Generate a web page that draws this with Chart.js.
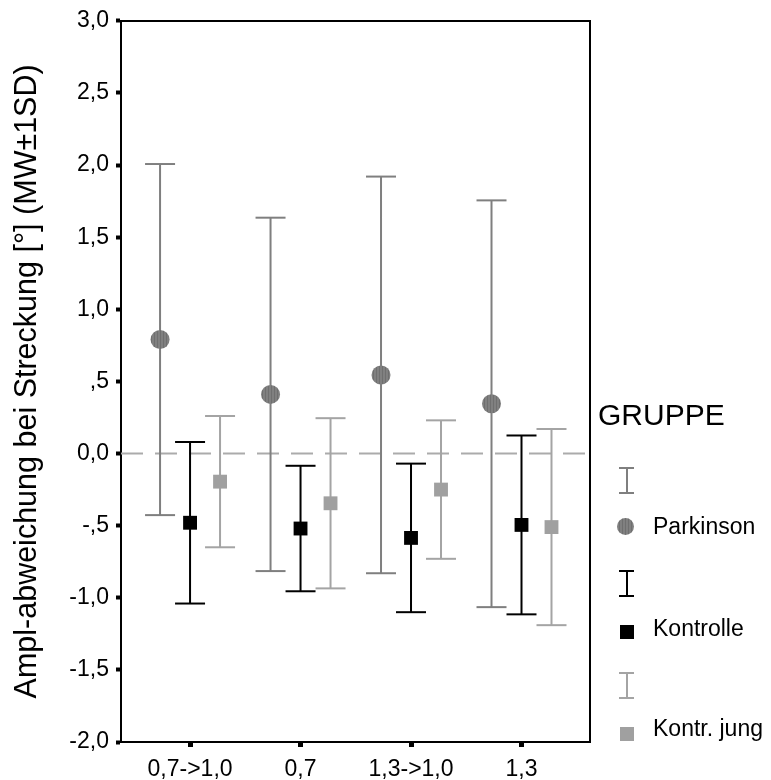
<!DOCTYPE html>
<html><head><meta charset="utf-8">
<script src="https://cdn.jsdelivr.net/npm/chart.js@4"></script>
<style>
html,body{margin:0;padding:0;background:#fff;}
#wrap{position:relative;width:771px;height:780px;}
#legend{position:absolute;left:0;top:0;width:771px;height:780px;pointer-events:none;font-family:"Liberation Sans",Arial,sans-serif;color:#000;}
.lt{position:absolute;white-space:nowrap;line-height:1;}
.eb{position:absolute;width:15px;height:27px;box-sizing:border-box;border-top:2px solid currentColor;border-bottom:2px solid currentColor;}
.eb::after{content:'';position:absolute;left:6.5px;top:0;bottom:0;width:2px;background:currentColor;}
.mk{position:absolute;}
</style></head><body>
<div id="wrap"><canvas id="c" width="771" height="780"></canvas>
<div id="legend"></div></div>
<script>
// ---- data ----
const categories = ['0,7->1,0', '0,7', '1,3->1,0', '1,3'];
const groups = ['Parkinson', 'Kontrolle', 'Kontr. jung'];
const parkinsonMean = [0.79, 0.41, 0.545, 0.345];
const parkinsonSD   = [1.217, 1.225, 1.375, 1.41];
const kontrolleMean = [-0.48, -0.52, -0.585, -0.495];
const kontrolleSD   = [0.56, 0.435, 0.515, 0.62];
const jungMean      = [-0.195, -0.345, -0.25, -0.51];
const jungSD        = [0.455, 0.59, 0.48, 0.68];
const yTickLabels = ['-2,0', '-1,5', '-1,0', '-,5', '0,0', ',5', '1,0', '1,5', '2,0', '2,5', '3,0'];
const referenceValue = 0;
const yTitle = 'Ampl-abweichung bei Streckung [°] (MW±1SD)';
const legendTitle = 'GRUPPE';

// ---- styles ----
const FONT = '"Liberation Sans", Arial, sans-serif';
const colParkBar = '#7f7f7f';
const colKontr = '#000000';
const colJung = '#a4a4a4';
const X_MIN = 0.375, X_MAX = 4.62, OFF = 0.2715;

function makePattern() {
  const p = document.createElement('canvas');
  p.width = 3; p.height = 4;
  const g = p.getContext('2d');
  g.fillStyle = '#808080'; g.fillRect(0, 0, 3, 4);
  g.fillStyle = '#6f6f6f'; g.fillRect(1, 0, 1, 4);
  return g.createPattern(p, 'repeat');
}

function errData(mean, sd, off) {
  const d = [];
  mean.forEach((m, i) => {
    const x = i + 1 + off;
    d.push({x, y: m + sd[i]}, {x, y: m - sd[i]}, {x, y: null});
  });
  return d;
}
function meanData(mean, off) {
  return mean.map((m, i) => ({x: i + 1 + off, y: m}));
}
function errSet(mean, sd, off, color) {
  return {type: 'line', data: errData(mean, sd, off), borderColor: color, borderWidth: 2,
    showLine: true, spanGaps: false, pointStyle: 'line', pointRadius: 15, pointHoverRadius: 15,
    pointBorderColor: color, pointBorderWidth: 2, pointBackgroundColor: color, order: 5, clip: false};
}
function markSet(mean, off, style, radius, color) {
  return {type: 'scatter', data: meanData(mean, off), pointStyle: style, pointRadius: radius,
    pointHoverRadius: radius, backgroundColor: color, borderColor: color, pointBorderWidth: 0,
    borderWidth: 0, order: 1, clip: false};
}

const pat = makePattern();

const datasets = [
  {type: 'line', data: [{x: X_MIN, y: referenceValue}, {x: X_MAX, y: referenceValue}],
   borderColor: '#ababab', borderWidth: 2, borderDash: [22, 12], pointRadius: 0, order: 10},
  errSet(parkinsonMean, parkinsonSD, -OFF, colParkBar),
  errSet(kontrolleMean, kontrolleSD, 0, colKontr),
  errSet(jungMean, jungSD, OFF, colJung),
  markSet(parkinsonMean, -OFF, 'circle', 9.5, pat),
  markSet(kontrolleMean, 0, 'rect', 9.8, '#000000'),
  markSet(jungMean, OFF, 'rect', 9.8, '#a0a0a0'),
];

new Chart(document.getElementById('c'), {
  type: 'scatter',
  data: {datasets},
  options: {
    responsive: false,
    animation: false,
    events: [],
    layout: {padding: {left: 0, right: 181, top: 17, bottom: 0}},
    plugins: {legend: {display: false}, tooltip: {enabled: false}},
    scales: {
      x: {
        type: 'linear', position: 'bottom', min: X_MIN, max: X_MAX,
        afterBuildTicks: s => { s.ticks = categories.map((c, i) => ({value: i + 1})); },
        afterFit: s => { s.height = 38; },
        ticks: {callback: (v, i) => categories[i], font: {family: FONT, size: 23}, color: '#000',
          padding: 9, maxRotation: 0, autoSkip: false},
        grid: {display: true, drawOnChartArea: false, drawTicks: true, tickLength: 5, tickWidth: 5, tickColor: '#000'},
        border: {display: true, color: '#000', width: 2}
      },
      y: {
        type: 'linear', position: 'left', min: -2, max: 3,
        afterFit: s => { s.width = 121; },
        ticks: {stepSize: 0.5, callback: (v, i) => yTickLabels[i], font: {family: FONT, size: 23},
          color: '#000', padding: 7},
        grid: {display: true, drawOnChartArea: false, drawTicks: true, tickLength: 5, tickWidth: 4, tickColor: '#000'},
        border: {display: true, color: '#000', width: 2},
        title: {display: true, text: yTitle, font: {family: FONT, size: 30.5}, color: '#000', padding: {top: 9, bottom: 0}}
      },
      x2: {
        type: 'linear', position: 'top', min: X_MIN, max: X_MAX,
        afterFit: s => { s.height = 0; },
        ticks: {display: false}, grid: {display: false, drawTicks: false},
        border: {display: true, color: '#000', width: 2}
      },
      y2: {
        type: 'linear', position: 'right', min: -2, max: 3,
        afterFit: s => { s.width = 0; },
        ticks: {display: false}, grid: {display: false, drawTicks: false},
        border: {display: true, color: '#000', width: 2}
      }
    }
  }
});

// ---- legend (HTML) ----
const lg = document.getElementById('legend');
function add(html) { lg.insertAdjacentHTML('beforeend', html); }
add(`<div class="lt" style="left:598px;top:400px;font-size:30px;">${legendTitle}</div>`);
const legendItems = [
  {bar: colParkBar, mark: 'circle', mcol: '#868686', barTop: 467, markTop: 518, textTop: 515},
  {bar: colKontr, mark: 'rect', mcol: '#000', barTop: 570, markTop: 625, textTop: 617},
  {bar: colJung, mark: 'rect', mcol: '#a0a0a0', barTop: 672, markTop: 727, textTop: 717},
];
legendItems.forEach((it, i) => {
  add(`<div class="eb" style="left:619px;top:${it.barTop}px;color:${it.bar};"></div>`);
  if (it.mark === 'circle') {
    add(`<div class="mk" style="left:617px;top:${it.markTop}px;width:17px;height:17px;border-radius:50%;background:repeating-linear-gradient(90deg,#808080 0 2px,#6f6f6f 2px 3px);"></div>`);
  } else {
    add(`<div class="mk" style="left:620px;top:${it.markTop}px;width:14px;height:14px;background:${it.mcol};"></div>`);
  }
  add(`<div class="lt" style="left:653px;top:${it.textTop}px;font-size:23px;">${groups[i]}</div>`);
});
</script>
</body></html>
